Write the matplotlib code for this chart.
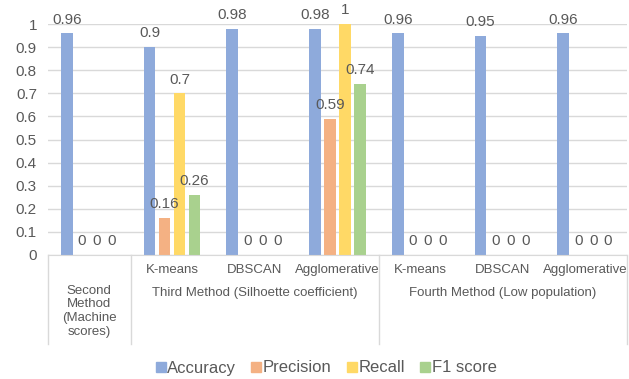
import matplotlib.pyplot as plt
from matplotlib.lines import Line2D
import numpy as np

plt.rcParams['font.family'] = ['Liberation Sans', 'DejaVu Sans']

# Clustered categories: (sub label, method)
sub_labels = ["", "K-means", "DBSCAN", "Agglomerative", "K-means", "DBSCAN", "Agglomerative"]
method_labels = ["Second\nMethod\n(Machine\nscores)",
                 "Third Method (Silhoette coefficient)",
                 "Fourth Method (Low population)"]
method_spans = [(0, 1), (1, 4), (4, 7)]

series_names = ["Accuracy", "Precision", "Recall", "F1 score"]
accuracy = [0.96, 0.9, 0.98, 0.98, 0.96, 0.95, 0.96]
precision = [0, 0.16, 0, 0.59, 0, 0, 0]
recall = [0, 0.7, 0, 1, 0, 0, 0]
f1_score = [0, 0.26, 0, 0.74, 0, 0, 0]

colors = ["#8EAADB", "#F4B183", "#FFD966", "#A9D18E"]
TEXT = "#595959"
GRID = "#D9D9D9"

fig = plt.figure(figsize=(6.29, 3.79), dpi=100)
ax = fig.add_axes([48 / 629, 124 / 379, 579 / 629, 231 / 379])

x = np.arange(len(sub_labels)) + 0.5
step = 0.181
width = 0.141
for i, (vals, col) in enumerate(zip([accuracy, precision, recall, f1_score], colors)):
    pos = x + (i - 1.5) * step
    ax.bar(pos, vals, width=width, color=col, zorder=2)
    for px, v in zip(pos, vals):
        ax.annotate("{:g}".format(v), (px, v), xytext=(0, 7), textcoords="offset points",
                    ha="center", va="baseline", fontsize=11, color=TEXT,
                    annotation_clip=False, zorder=3)

ax.set_xlim(0, len(sub_labels))
ax.set_ylim(0, 1)
ax.set_yticks(np.arange(0, 1.01, 0.1))
ax.set_yticklabels(["{:g}".format(round(t, 1)) for t in ax.get_yticks()])
ax.tick_params(axis="y", length=0, labelsize=11, colors=TEXT, pad=8)
ax.set_xticks([])
ax.yaxis.grid(True, color=GRID, linewidth=1, zorder=0)
for s in ["top", "right", "left"]:
    ax.spines[s].set_visible(False)
ax.spines["bottom"].set_color(GRID)

# Two-level category axis
tr = ax.get_xaxis_transform()
for xi, lab in zip(x, sub_labels):
    ax.text(xi, -0.065, lab, transform=tr, ha="center", va="center",
            fontsize=9.5, color=TEXT)
for (a, b), lab in zip(method_spans, method_labels):
    if b - a == 1:
        ax.text((a + b) / 2, -0.128, lab, transform=tr, ha="center", va="top",
                fontsize=9.5, color=TEXT, linespacing=1.2)
    else:
        ax.text((a + b) / 2, -0.165, lab, transform=tr, ha="center", va="center",
                fontsize=9.5, color=TEXT)
for xb in [0, 1, 4, 7]:
    ax.plot([xb, xb], [0, -0.385], transform=tr, color=GRID, linewidth=1,
            clip_on=False)

handles = [Line2D([], [], marker="s", linestyle="none", markersize=7.5,
                  markerfacecolor=c, markeredgecolor=c) for c in colors]
fig.legend(handles, series_names, loc="center", bbox_to_anchor=(326 / 629, 11 / 379),
           ncol=4, frameon=False, fontsize=12, handlelength=0.6, handletextpad=0.1,
           columnspacing=0.9, labelcolor=TEXT)

fig.savefig("out.png", dpi=100)
